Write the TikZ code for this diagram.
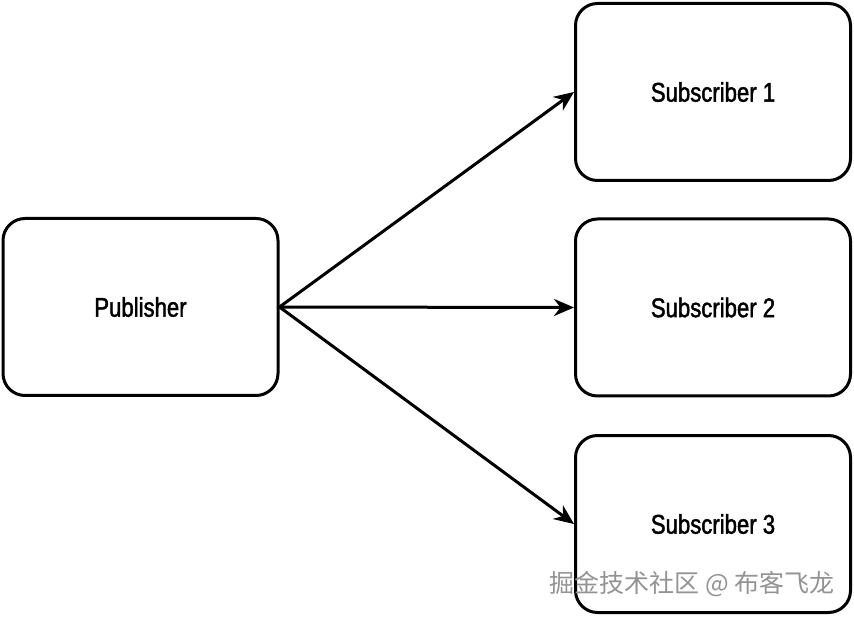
\documentclass[tikz,border=0pt]{standalone}
\usepackage{fontspec}
\setmainfont{Liberation Sans}[FakeStretch=0.82,FakeBold=1.6]
\newfontfamily\cjk{Noto Sans CJK SC}
\usetikzlibrary{arrows.meta}
\begin{document}
\begin{tikzpicture}[x=1pt,y=-1pt,
  box/.style={draw,line width=3pt,rounded corners=22pt,minimum width=275pt,minimum height=177pt,font=\fontsize{27}{30}\selectfont},
  arr/.style={line width=3pt,-{Stealth[length=20pt,width=17pt]}}]
\useasboundingbox (0,0) rectangle (854,617);
\node[box] (pub) at (140.5,307) {Publisher};
\node[box] (s1) at (713,92) {Subscriber 1};
\node[box] (s2) at (713,307.5) {Subscriber 2};
\node[box] (s3) at (713,524) {Subscriber 3};
\draw[arr] (pub.east) -- (s1.west);
\draw[arr] (pub.east) -- (s2.west);
\draw[arr] (pub.east) -- (s3.west);
\node[text=gray!85,font=\cjk\fontsize{25}{28}\selectfont] (wm) at (692,584) {掘金技术社区 @ 布客飞龙};
\end{tikzpicture}
\end{document}
